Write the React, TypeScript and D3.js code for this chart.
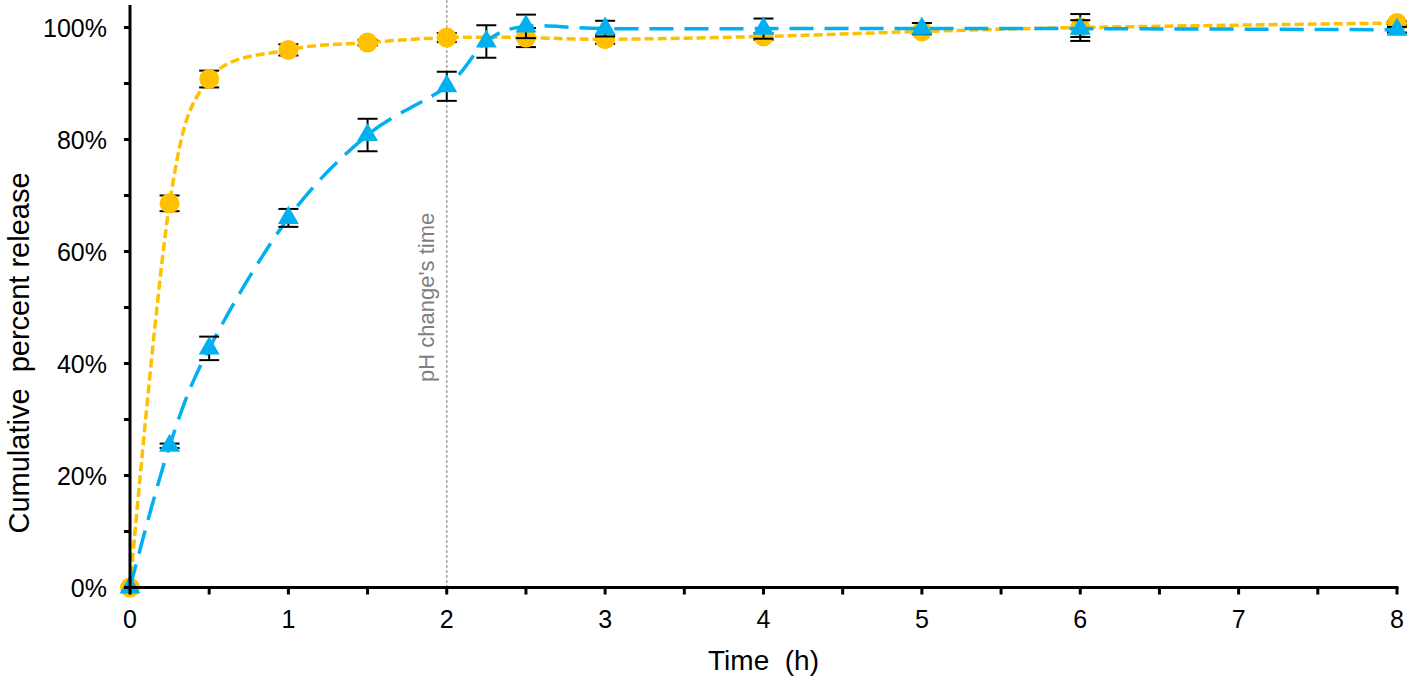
import React from "react";
import * as d3 from "d3";

// ---- data ----
const orangeTime = [0, 0.25, 0.5, 1, 1.5, 2, 2.5, 3, 4, 5, 6, 8];
const orangeValue = [0, 68.6, 90.8, 96.0, 97.3, 98.2, 98.2, 97.9, 98.4, 99.3, 100.0, 100.8];
const orangeError = [0, 1.4, 1.5, 1.0, 0.5, 0.8, 1.7, 0.8, 0.6, 0.5, 2.4, 0.3];

const blueTime = [0, 0.25, 0.5, 1, 1.5, 2, 2.25, 2.5, 3, 4, 5, 6, 8];
const blueValue = [0, 25.3, 42.7, 66.0, 80.8, 89.5, 97.5, 100.2, 99.8, 99.8, 99.8, 99.8, 99.6];
const blueError = [0, 0.4, 2.1, 1.6, 2.9, 2.6, 2.9, 2.1, 1.4, 1.8, 1.0, 1.5, 0.5];

const xTicks = [0, 1, 2, 3, 4, 5, 6, 7, 8];
const xMinorTicks = [0.5, 1.5, 2.5, 3.5, 4.5, 5.5, 6.5, 7.5];
const yTicks = [0, 20, 40, 60, 80, 100];
const yMinorTicks = [10, 30, 50, 70, 90];
const phChangeTime = 2;

const W = 1414;
const H = 681;
const ORANGE = "#FFC000";
const BLUE = "#00B0F0";
const FONT = "'Liberation Sans', Arial, sans-serif";

export default function App() {
  const x = d3.scaleLinear().domain([0, 8]).range([130, 1397]);
  const y = d3.scaleLinear().domain([0, 100]).range([587.5, 27.5]);

  const line = d3
    .line<[number, number]>()
    .x((d) => x(d[0]))
    .y((d) => y(d[1]))
    .curve(d3.curveCardinal.tension(0));

  const oPts = orangeTime.map((t, i) => [t, orangeValue[i]] as [number, number]);
  const bPts = blueTime.map((t, i) => [t, blueValue[i]] as [number, number]);

  const circle = d3.symbol(d3.symbolCircle, 314)()!;
  const tri = d3.symbol(d3.symbolTriangle, 190)()!;

  const errBars = (ts: number[], vs: number[], es: number[], key: string) =>
    ts.map((t, i) =>
      es[i] > 0 ? (
        <g key={key + i} stroke="#000" strokeWidth={2}>
          <line x1={x(t)} x2={x(t)} y1={y(vs[i] - es[i])} y2={y(vs[i] + es[i])} />
          <line x1={x(t) - 10} x2={x(t) + 10} y1={y(vs[i] - es[i])} y2={y(vs[i] - es[i])} />
          <line x1={x(t) - 10} x2={x(t) + 10} y1={y(vs[i] + es[i])} y2={y(vs[i] + es[i])} />
        </g>
      ) : null
    );

  return (
    <svg
      width={W}
      height={H}
      style={{ position: "absolute", left: 0, top: 0, background: "#fff" }}
      fontFamily={FONT}
    >
      {/* pH change line */}
      <line
        x1={x(phChangeTime)}
        x2={x(phChangeTime)}
        y1={0}
        y2={y(0)}
        stroke="#A6A6A6"
        strokeWidth={1.5}
        strokeDasharray="3 2"
      />
      <text
        transform={`translate(${x(phChangeTime) - 13},382) rotate(-90)`}
        fontSize={22}
        fill="#808080"
        textAnchor="start"
      >
        pH change's time
      </text>

      {/* orange series */}
      <path d={line(oPts)!} fill="none" stroke={ORANGE} strokeWidth={3.5} strokeDasharray="9 4" />
      {errBars(orangeTime, orangeValue, orangeError, "oe")}
      {oPts.map((d, i) => (
        <path key={"om" + i} d={circle} transform={`translate(${x(d[0])},${y(d[1])})`} fill={ORANGE} />
      ))}

      {/* blue series */}
      <path d={line(bPts)!} fill="none" stroke={BLUE} strokeWidth={3.5} strokeDasharray="24 11" />
      {errBars(blueTime, blueValue, blueError, "be")}
      {bPts.map((d, i) => (
        <path key={"bm" + i} d={tri} transform={`translate(${x(d[0])},${y(d[1])})`} fill={BLUE} />
      ))}

      {/* axes */}
      <g stroke="#000" strokeWidth={3}>
        <line x1={x(0)} x2={x(0)} y1={5} y2={y(0) + 1.5} />
        <line x1={x(0) - 1.5} x2={x(8) + 1.5} y1={y(0)} y2={y(0)} />
        {yTicks.concat(yMinorTicks).map((v) => (
          <line key={"yt" + v} x1={x(0) - 6} x2={x(0)} y1={y(v)} y2={y(v)} />
        ))}
        {xTicks.concat(xMinorTicks).map((v) => (
          <line key={"xt" + v} x1={x(v)} x2={x(v)} y1={y(0)} y2={y(0) + 7} />
        ))}
      </g>
      {yTicks.map((v) => (
        <text key={"yl" + v} x={107} y={y(v) + 9} fontSize={25} textAnchor="end" fill="#000">
          {v}%
        </text>
      ))}
      {xTicks.map((v) => (
        <text key={"xl" + v} x={x(v)} y={628} fontSize={25} textAnchor="middle" fill="#000">
          {v}
        </text>
      ))}
      <text x={x(4)} y={670} fontSize={28} textAnchor="middle" fill="#000" style={{ whiteSpace: "pre" }}>
        {"Time  (h)"}
      </text>
      <text
        transform={`translate(29,353) rotate(-90)`}
        fontSize={29}
        textAnchor="middle"
        fill="#000"
        style={{ whiteSpace: "pre" }}
      >
        {"Cumulative  percent release"}
      </text>
    </svg>
  );
}
